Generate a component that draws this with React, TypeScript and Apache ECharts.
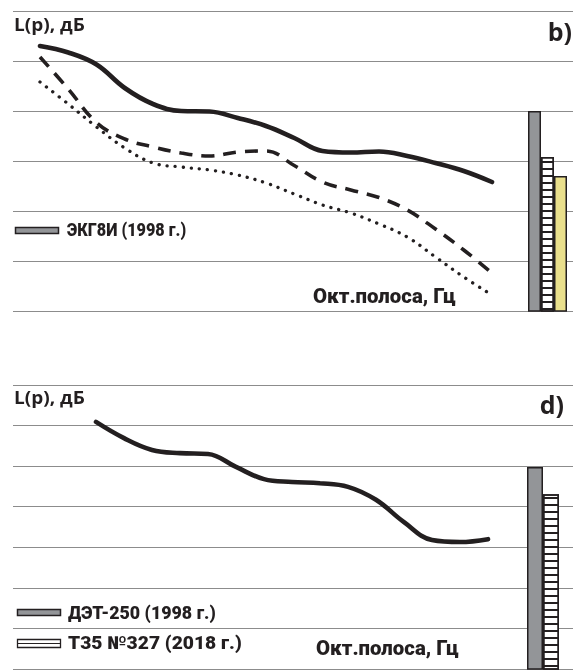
import React, { useEffect, useRef } from 'react';
import * as echarts from 'echarts';

// Octave / half-octave band positions (hidden category axis)
const bands = ['31.5', '45', '63', '90', '125', '180', '250', '355', '500', '710', '1000', '1400', '2000', '2800', '4000', '5600', '8000'];

// Panel b) — sound levels, dB
const topSolid = [83, 81.7, 79.3, 74.6, 71.4, 70, 69.9, 68.6, 67, 64.6, 62, 61.7, 61.9, 61, 59.6, 58, 55.8];
const topDashed = [80.8, 74.4, 67.7, 64.4, 62.8, 61.6, 61, 61.8, 62, 59.1, 55.8, 54.2, 52.7, 50.2, 46.4, 42.2, 37.6];
const topDotted = [75.8, 71.4, 66.8, 62.6, 59.6, 58.8, 58.2, 57.2, 55.6, 53.4, 51.2, 49.6, 47.4, 44.8, 40.8, 36.8, 33.2];
const topBarNames = ['ЭКГ8И (1998 г.)', 'Т35 №327 (2018 г.)', 'Т35 (2018 г.)'];
const topBarValues = [70, 60.8, 57];
const topMin = 30;
const topMax = 90;

// Panel d)
const bottomSolid = [null, null, 90.9, 86.9, 84, 83.2, 83, 79.8, 76.8, 76.1, 75.8, 74.9, 71.7, 66.2, 61.8, 61.3, 62.0];
const bottomBarNames = ['ДЭТ-250 (1998 г.)', 'Т35 №327 (2018 г.)'];
const bottomBarValues = [79.8, 73.1];
const bottomMin = 30;
const bottomMax = 100;
const tickStep = 10;

const GRID_COLOR = '#8c8c8c';
const INK = '#231f20';
const GRAY = '#939598';
const YELLOW = '#e9df8c';

const hatchTop = {
  symbol: 'rect',
  symbolSize: 1,
  color: INK,
  dashArrayX: [1, 0],
  dashArrayY: [1.6, 4.2],
  rotation: 0,
};
const hatchBottom = {
  symbol: 'rect',
  symbolSize: 1,
  color: INK,
  dashArrayX: [1, 0],
  dashArrayY: [1.7, 5],
  rotation: 0,
};

export default function App() {
  const ref = useRef<HTMLDivElement>(null);
  useEffect(() => {
    if (!ref.current) return;
    const chart = echarts.init(ref.current, undefined, { renderer: 'svg' });

    const hiddenY = (min: number, max: number, gridIndex: number, split: boolean) => ({
      type: 'value',
      gridIndex,
      min,
      max,
      interval: tickStep,
      axisLine: { show: false },
      axisTick: { show: false },
      axisLabel: { show: false },
      splitLine: { show: split, lineStyle: { color: GRID_COLOR, width: 1 } },
    });

    const condensed = (text: string, x: number, y: number, size: number, sx: number) => ({
      type: 'text',
      x,
      y,
      scaleX: sx,
      style: {
        text,
        font: `900 ${size}px Roboto`,
        fill: INK,
        textAlign: 'left',
        textVerticalAlign: 'middle',
        verticalAlign: 'middle',
      },
    });

    const heading = (text: string, x: number, y: number, size: number, sx: number, align: string) => ({
      type: 'text',
      x,
      y,
      scaleX: sx,
      style: {
        text,
        font: `bold ${size}px "Open Sans"`,
        fill: INK,
        textAlign: align,
        textVerticalAlign: 'middle',
        verticalAlign: 'middle',
      },
    });

    const option: any = {
      animation: false,
      grid: [
        { left: 13, width: 560, top: 11, height: 300 },
        { left: 40, width: 452, top: 11, height: 300 },
        { left: 528, width: 39, top: 11, height: 300 },
        { left: 13, width: 560, top: 385, height: 284 },
        { left: 40, width: 448, top: 385, height: 284 },
        { left: 527, width: 32, top: 385, height: 284 },
      ],
      xAxis: [
        { type: 'value', gridIndex: 0, show: false, min: 0, max: 1 },
        { type: 'category', gridIndex: 1, show: false, data: bands, boundaryGap: false },
        { type: 'category', gridIndex: 2, show: false, data: topBarNames, boundaryGap: true },
        { type: 'value', gridIndex: 3, show: false, min: 0, max: 1 },
        { type: 'category', gridIndex: 4, show: false, data: bands, boundaryGap: false },
        { type: 'category', gridIndex: 5, show: false, data: bottomBarNames, boundaryGap: true },
      ],
      yAxis: [
        hiddenY(topMin, topMax, 0, true),
        hiddenY(topMin, topMax, 1, false),
        hiddenY(topMin, topMax, 2, false),
        hiddenY(bottomMin, bottomMax, 3, true),
        hiddenY(bottomMin, bottomMax, 4, false),
        hiddenY(bottomMin, bottomMax, 5, false),
      ],
      series: [
        {
          type: 'line', xAxisIndex: 1, yAxisIndex: 1, data: topSolid, smooth: 0.4, symbol: 'none',
          lineStyle: { color: INK, width: 4.6, cap: 'round' },
        },
        {
          type: 'line', xAxisIndex: 1, yAxisIndex: 1, data: topDashed, smooth: 0.4, symbol: 'none',
          lineStyle: { color: INK, width: 3.6, type: [13, 9] },
        },
        {
          type: 'line', xAxisIndex: 1, yAxisIndex: 1, data: topDotted, smooth: 0.4, symbol: 'none',
          lineStyle: { color: INK, width: 3.3, type: [0.1, 8], cap: 'round' },
        },
        {
          type: 'bar', xAxisIndex: 2, yAxisIndex: 2, barWidth: '100%', barCategoryGap: 0,
          data: topBarValues.map((v, i) => ({
            value: v,
            itemStyle: i === 0
              ? { color: GRAY, borderColor: INK, borderWidth: 1.5 }
              : i === 1
                ? { color: '#ffffff', borderColor: INK, borderWidth: 1.5, decal: hatchTop }
                : { color: YELLOW, borderColor: INK, borderWidth: 1.5 },
          })),
        },
        {
          type: 'line', xAxisIndex: 4, yAxisIndex: 4, data: bottomSolid, smooth: 0.4, symbol: 'none',
          connectNulls: false,
          lineStyle: { color: INK, width: 4.6, cap: 'round' },
        },
        {
          type: 'bar', xAxisIndex: 5, yAxisIndex: 5, barWidth: '100%', barCategoryGap: 0,
          data: bottomBarValues.map((v, i) => ({
            value: v,
            itemStyle: i === 0
              ? { color: GRAY, borderColor: INK, borderWidth: 1.5 }
              : { color: '#ffffff', borderColor: INK, borderWidth: 1.5, decal: hatchBottom },
          })),
        },
      ],
      graphic: [
        heading('L(p), дБ', 14, 24, 17, 1.12, 'left'),
        heading('L(p), дБ', 14, 397, 17, 1.12, 'left'),
        heading('b)', 572, 31, 25, 1, 'right'),
        heading('d)', 564, 404, 25, 1, 'right'),
        { type: 'rect', shape: { x: 15.5, y: 227.5, width: 43, height: 6 }, style: { fill: GRAY, stroke: INK, lineWidth: 1.5 } },
        condensed('ЭКГ8И (1998 г.)', 67, 230, 18, 0.9),
        condensed('Окт.полоса, Гц', 313, 296, 20, 1.02),
        { type: 'rect', shape: { x: 17.5, y: 609.5, width: 43, height: 6 }, style: { fill: GRAY, stroke: INK, lineWidth: 1.5 } },
        { type: 'rect', shape: { x: 17.5, y: 639.5, width: 43, height: 8 }, style: { fill: '#fff', stroke: INK, lineWidth: 1.3 } },
        { type: 'line', shape: { x1: 17.5, y1: 643.5, x2: 60.5, y2: 643.5 }, style: { stroke: INK, lineWidth: 1.2 } },
        condensed('ДЭТ-250 (1998 г.)', 68, 612, 18, 0.99),
        condensed('Т35 №327 (2018 г.)', 68, 643, 18, 1.07),
        condensed('Окт.полоса, Гц', 316, 648, 20, 1.02),
      ],
    };
    chart.setOption(option);
    return () => chart.dispose();
  }, []);
  return <div ref={ref} style={{ position: 'fixed', left: 0, top: 0, width: 573, height: 670 }} />;
}
